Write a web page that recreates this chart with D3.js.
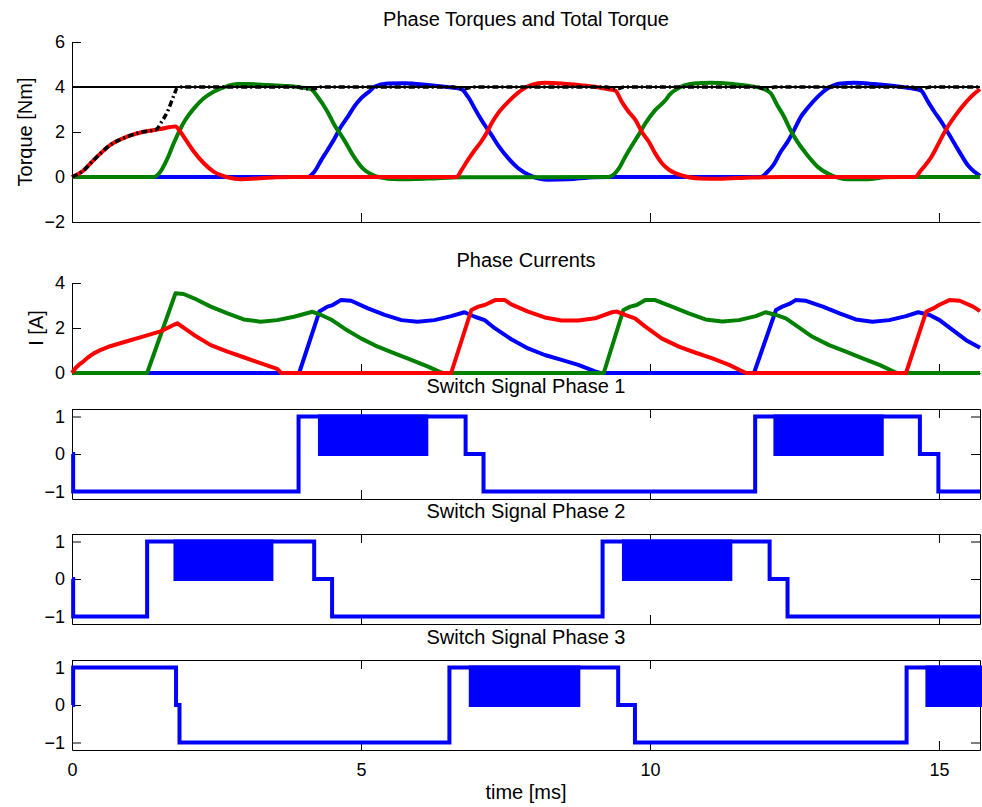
<!DOCTYPE html>
<html>
<head>
<meta charset="utf-8">
<script src="https://cdn.jsdelivr.net/npm/d3@7"></script>
<style>
  body { margin: 0; background: #fff; }
  svg { display: block; font-family: "Liberation Sans", Arial, Helvetica, sans-serif; }
  .tick text { font-size: 18px; fill: #000; }
  .axis path, .axis line { stroke: #000; }
  .lbl { font-size: 20px; fill: #000; }
</style>
</head>
<body>
<svg id="chart" width="982" height="807"></svg>
<script>
/*global d3*/

// time axis [ms]
var tMax = 15.71;
var xTicks = [0, 5, 10, 15];
var torqueTicks = [-2, 0, 2, 4, 6];
var currentTicks = [0, 2, 4];
var switchTicks = [-1, 0, 1];

// reference torque [Nm]
var torqueRef = 4;

// phase torques [t ms, Nm]
var torque1 = [[0,0],[4.07,0],[4.19,0.22],[4.31,0.74],[4.42,1.19],[4.54,1.7],[4.65,2.22],[4.77,2.67],[4.88,3.12],[5.0,3.49],[5.17,3.86],[5.23,4.01],[5.46,4.16],[5.75,4.17],[6.16,4.09],[6.45,4.01],[6.74,3.9],[6.85,3.57],[7.0,2.9],[7.14,2.31],[7.26,1.86],[7.37,1.42],[7.55,0.83],[7.72,0.39],[7.95,0.04],[8.24,-0.12],[8.59,-0.1],[9.05,-0.01],[9.34,0],[11.92,0],[12.03,0.22],[12.15,0.59],[12.26,1.11],[12.38,1.56],[12.49,2.07],[12.61,2.67],[12.72,3.04],[12.9,3.56],[13.07,3.93],[13.3,4.16],[13.53,4.19],[13.88,4.13],[14.23,4.04],[14.52,3.94],[14.69,3.84],[14.81,3.35],[14.92,2.9],[15.04,2.46],[15.15,2.0],[15.27,1.48],[15.39,0.96],[15.5,0.52],[15.62,0.22],[15.71,0.05]];
var torque2 = [[0,0],[1.41,0],[1.53,0.24],[1.64,0.76],[1.76,1.5],[1.85,2.01],[1.96,2.53],[2.11,3.05],[2.28,3.5],[2.45,3.79],[2.69,4.04],[2.86,4.13],[3.03,4.13],[3.38,4.09],[3.73,4.04],[3.96,3.98],[4.13,3.91],[4.25,3.57],[4.42,2.9],[4.54,2.31],[4.71,1.64],[4.88,0.89],[5.03,0.38],[5.17,0.13],[5.3,0.0],[5.64,-0.1],[6.16,-0.07],[6.74,-0.01],[9.28,0],[9.46,0.37],[9.57,0.89],[9.69,1.41],[9.8,1.86],[9.92,2.38],[10.09,2.97],[10.27,3.42],[10.34,3.66],[10.47,3.92],[10.76,4.16],[11.05,4.19],[11.45,4.13],[11.74,4.04],[11.97,3.91],[12.09,3.72],[12.2,3.2],[12.32,2.68],[12.43,2.09],[12.55,1.57],[12.72,0.98],[12.9,0.46],[13.13,0.09],[13.42,-0.1],[13.77,-0.1],[14.06,-0.01],[14.35,0],[15.71,0]];
var torque3 = [[0,0],[0.18,0.25],[0.37,0.74],[0.66,1.42],[0.95,1.79],[1.24,2.01],[1.53,2.13],[1.79,2.24],[1.875,2.01],[1.99,1.57],[2.11,1.12],[2.28,0.61],[2.45,0.24],[2.69,-0.01],[2.92,-0.1],[3.26,-0.06],[3.55,-0.01],[3.84,0],[6.65,0],[6.74,0.31],[6.85,0.76],[6.97,1.2],[7.08,1.57],[7.17,1.94],[7.26,2.39],[7.37,2.83],[7.55,3.35],[7.72,3.75],[7.95,4.09],[8.18,4.19],[8.47,4.16],[8.76,4.09],[9.05,4.01],[9.28,3.9],[9.4,3.84],[9.51,3.35],[9.63,2.9],[9.75,2.53],[9.86,2.0],[9.98,1.57],[10.09,1.05],[10.21,0.6],[10.34,0.3],[10.52,0.09],[10.87,-0.07],[11.2,-0.08],[11.74,-0.02],[12.32,0],[14.58,0],[14.69,0.3],[14.87,0.9],[14.98,1.42],[15.1,2.01],[15.27,2.68],[15.45,3.27],[15.62,3.72],[15.71,3.9]];

// total torque [t ms, Nm]
var torqueTotal = [[0,0],[0.18,0.25],[0.37,0.74],[0.66,1.42],[0.95,1.79],[1.24,2.01],[1.45,2.1],[1.55,2.45],[1.65,2.9],[1.76,3.6],[1.82,3.95],[1.9,4.0],[3.9,4.0],[4.05,3.92],[4.2,3.92],[4.3,4.0],[6.6,4.0],[6.75,3.92],[6.85,3.95],[6.95,4.0],[9.25,4.0],[9.35,3.92],[9.45,3.93],[9.55,4.0],[11.85,4.0],[11.97,3.92],[12.08,3.94],[12.15,4.0],[14.5,4.0],[14.65,3.93],[14.75,3.95],[14.85,4.0],[15.71,4.0]];

// phase currents [t ms, A]
var current1 = [[0,0],[3.93,0],[4.28,2.73],[4.42,2.95],[4.51,3.02],[4.65,3.24],[4.83,3.21],[5.12,2.87],[5.41,2.58],[5.7,2.35],[5.98,2.28],[6.27,2.35],[6.56,2.53],[6.79,2.7],[6.97,2.5],[7.14,2.35],[7.32,1.98],[7.6,1.5],[7.89,1.09],[8.18,0.8],[8.47,0.58],[8.76,0.36],[9.05,0.07],[9.14,0],[11.8,0],[12.18,2.8],[12.29,2.95],[12.41,3.07],[12.52,3.24],[12.7,3.21],[12.99,2.95],[13.28,2.65],[13.56,2.38],[13.85,2.28],[14.14,2.35],[14.43,2.53],[14.64,2.7],[14.84,2.58],[15.01,2.35],[15.24,1.91],[15.47,1.46],[15.71,1.12]];
var current2 = [[0,0],[1.3,0],[1.79,3.54],[1.93,3.51],[2.11,3.32],[2.4,2.95],[2.69,2.65],[2.97,2.38],[3.26,2.28],[3.55,2.35],[3.84,2.5],[4.16,2.72],[4.31,2.58],[4.48,2.38],[4.71,1.98],[5.0,1.54],[5.29,1.17],[5.58,0.87],[5.87,0.58],[6.16,0.28],[6.39,0.02],[6.42,0],[9.2,0],[9.54,2.8],[9.66,2.95],[9.77,3.02],[9.92,3.24],[10.09,3.24],[10.38,2.95],[10.67,2.65],[10.96,2.38],[11.25,2.29],[11.54,2.35],[11.83,2.53],[12.0,2.7],[12.18,2.58],[12.35,2.43],[12.52,2.13],[12.81,1.61],[13.1,1.24],[13.39,0.95],[13.68,0.65],[13.97,0.36],[14.26,0.01],[14.28,0],[15.71,0]];
var current3 = [[0,0],[0.04,0.15],[0.08,0.27],[0.14,0.41],[0.2,0.52],[0.28,0.7],[0.37,0.86],[0.5,1.03],[0.66,1.19],[0.95,1.41],[1.24,1.63],[1.53,1.85],[1.82,2.21],[1.93,2.02],[2.11,1.69],[2.4,1.24],[2.69,0.95],[2.97,0.7],[3.26,0.44],[3.55,0.18],[3.62,0],[6.56,0],[6.91,2.8],[7.03,2.95],[7.14,3.02],[7.32,3.24],[7.49,3.24],[7.6,3.05],[7.89,2.73],[8.18,2.47],[8.47,2.33],[8.76,2.33],[9.05,2.43],[9.34,2.7],[9.43,2.73],[9.57,2.58],[9.74,2.43],[9.92,2.06],[10.2,1.54],[10.5,1.17],[10.79,0.9],[11.08,0.65],[11.37,0.36],[11.65,0.01],[11.67,0],[14.43,0],[14.78,2.73],[14.9,2.87],[15.0,3.02],[15.18,3.24],[15.36,3.21],[15.59,2.95],[15.71,2.75]];

// switch signals: level changes [t ms, level] and PWM chopping intervals [t start, t end]
var switch1 = [[0,0],[0.02,-1],[3.92,1],[6.81,0],[7.12,-1],[11.82,1],[14.67,0],[14.99,-1],[15.71,-1]];
var pwm1 = [[4.29,6.13],[12.17,14.01]];
var switch2 = [[0,0],[0.02,-1],[1.3,1],[4.19,0],[4.5,-1],[9.18,1],[12.07,0],[12.38,-1],[15.71,-1]];
var pwm2 = [[1.79,3.45],[9.55,11.39]];
var switch3 = [[0,0],[0.02,1],[1.8,0],[1.86,-1],[6.53,1],[9.45,0],[9.74,-1],[14.44,1],[15.71,1]];
var pwm3 = [[6.9,8.76],[14.8,15.71]];

var svg = d3.select("#chart");
var x = d3.scaleLinear().domain([0, tMax]).range([72, 980]);
var xMid = 526;
var tick = 9;

var panels = [
  {title: "Phase Torques and Total Torque", range: [222, 42], domain: [-2, 6], ticks: torqueTicks, box: false, ylabel: "Torque [Nm]", ylabelX: 32},
  {title: "Phase Currents", range: [373, 283], domain: [0, 4], ticks: currentTicks, box: false, ylabel: "I [A]", ylabelX: 43},
  {title: "Switch Signal Phase 1", range: [499, 409], domain: [-1.2, 1.2], ticks: switchTicks, box: true},
  {title: "Switch Signal Phase 2", range: [624, 534], domain: [-1.2, 1.2], ticks: switchTicks, box: true},
  {title: "Switch Signal Phase 3", range: [750, 660], domain: [-1.2, 1.2], ticks: switchTicks, box: true, xlabels: true}
];

panels.forEach(function (p) {
  p.y = d3.scaleLinear().domain(p.domain).range(p.range);
  var g = svg.append("g");
  p.g = g;
  var fmt = d3.format("d");

  g.append("g").attr("class", "axis")
      .attr("transform", "translate(72,0)")
      .call(d3.axisLeft(p.y).tickValues(p.ticks).tickSize(-tick).tickSizeOuter(0).tickPadding(7).tickFormat(fmt));

  var bottom = d3.axisBottom(x).tickValues(xTicks).tickSize(-tick).tickSizeOuter(0).tickPadding(13);
  if (!p.xlabels) bottom.tickFormat("");
  g.append("g").attr("class", "axis")
      .attr("transform", "translate(0," + p.range[0] + ")")
      .call(bottom);

  if (p.box) {
    g.append("g").attr("class", "axis")
        .attr("transform", "translate(0," + p.range[1] + ")")
        .call(d3.axisTop(x).tickValues(xTicks).tickSize(-tick).tickSizeOuter(0).tickFormat(""));
    g.append("g").attr("class", "axis")
        .attr("transform", "translate(980,0)")
        .call(d3.axisRight(p.y).tickValues(p.ticks).tickSize(-tick).tickSizeOuter(0).tickFormat(""));
  }
  g.selectAll(".domain").attr("stroke-width", 1);

  g.append("text").attr("class", "lbl")
      .attr("x", xMid).attr("y", p.range[1] - 16)
      .attr("text-anchor", "middle")
      .text(p.title);

  if (p.ylabel) {
    g.append("text").attr("class", "lbl")
        .attr("transform", "translate(" + p.ylabelX + "," + (p.range[0] + p.range[1]) / 2 + ") rotate(-90)")
        .attr("text-anchor", "middle")
        .text(p.ylabel);
  }
});

svg.append("text").attr("class", "lbl")
    .attr("x", xMid).attr("y", 799)
    .attr("text-anchor", "middle")
    .text("time [ms]");

var drawLine = function (p, data, color, width, curve) {
  var line = d3.line()
      .x(function (d) { return x(d[0]); })
      .y(function (d) { return p.y(d[1]); })
      .curve(curve || d3.curveLinear);
  return p.g.append("path")
      .datum(data)
      .attr("fill", "none")
      .attr("stroke", color)
      .attr("stroke-width", width)
      .attr("stroke-linejoin", "round")
      .attr("d", line);
};

// torques
var pT = panels[0];
drawLine(pT, torque1, "#0000ff", 4, d3.curveMonotoneX);
drawLine(pT, torque2, "#008000", 4, d3.curveMonotoneX);
drawLine(pT, torque3, "#ff0000", 4, d3.curveMonotoneX);
drawLine(pT, [[0, torqueRef], [tMax, torqueRef]], "#000", 2);
drawLine(pT, torqueTotal, "#000", 3.5, d3.curveMonotoneX)
    .attr("stroke-dasharray", "6,3,2,3");

// currents
var pI = panels[1];
drawLine(pI, current1, "#0000ff", 4);
drawLine(pI, current2, "#008000", 4);
drawLine(pI, current3, "#ff0000", 4);

// switch signals
var switches = [[switch1, pwm1], [switch2, pwm2], [switch3, pwm3]];
switches.forEach(function (s, i) {
  var p = panels[i + 2];
  p.g.selectAll("rect.pwm")
      .data(s[1])
      .join("rect")
      .attr("class", "pwm")
      .attr("x", function (d) { return x(d[0]); })
      .attr("width", function (d) { return x(d[1]) - x(d[0]); })
      .attr("y", p.y(1))
      .attr("height", p.y(0) - p.y(1))
      .attr("fill", "#0000ff")
      .attr("stroke", "#0000ff")
      .attr("stroke-width", 4);
  drawLine(p, s[0], "#0000ff", 4, d3.curveStepAfter)
      .attr("stroke-linejoin", "miter");
});
</script>
</body>
</html>
